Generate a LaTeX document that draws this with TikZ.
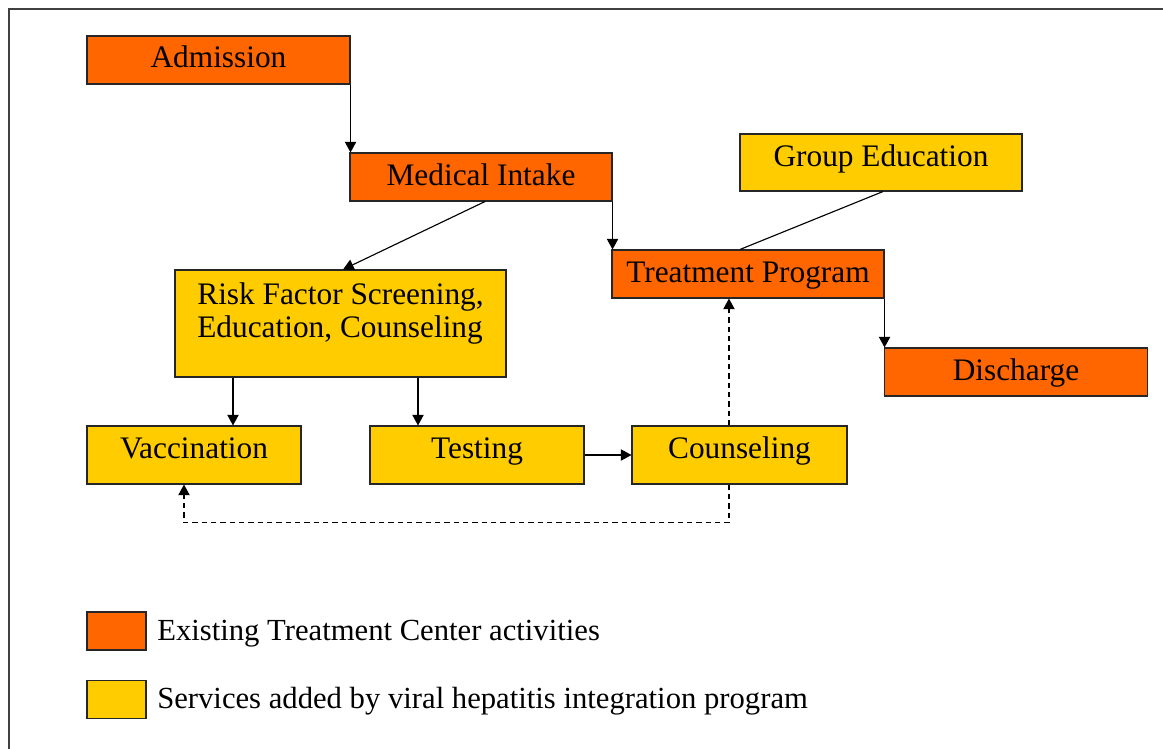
\documentclass[tikz,border=0pt]{standalone}
\usepackage{fontspec}
\setmainfont{Liberation Serif}
\usetikzlibrary{arrows.meta}

\definecolor{existorange}{RGB}{255,102,0}
\definecolor{addyellow}{RGB}{255,204,0}

\tikzset{
  box/.style={draw=black!85, line width=0.8pt, inner sep=0pt, text height=24pt,
    font=\fontsize{23.5}{28}\selectfont},
  oldbox/.style={box, fill=existorange},
  newbox/.style={box, fill=addyellow},
  flow/.style={-{Triangle[length=8pt,width=8.5pt]}, line width=0.85pt},
  back/.style={flow, dash pattern={on 4pt off 3pt}},
  legtext/.style={anchor=base west, inner sep=0pt, font=\fontsize{23}{27}\selectfont},
}

\begin{document}
\begin{tikzpicture}[x=0.75pt,y=0.75pt,yscale=-1,xscale=1]
\useasboundingbox (0,0) rectangle (1163,749);

%Frame
\draw [black!75, line width=1.5pt] (9,749) -- (9,9) -- (1163,9) ;

%Shape: Rectangle
\node [oldbox, minimum width=197.25pt, text depth=12pt] (adm) at (218.5,60) {Admission};
\node [oldbox, minimum width=196.5pt, text depth=12pt] (med) at (481,177) {Medical Intake};
\node [newbox, minimum width=211.5pt, text depth=18.75pt] (grp) at (881,162.5) {Group Education};
\node [oldbox, minimum width=204pt, text depth=12pt] (trt) at (748,274) {Treatment Program};
\node [oldbox, minimum width=197.25pt, text depth=12pt] (dis) at (1016,372) {Discharge};
\node [newbox, minimum width=248.25pt, align=left,
  text height=50.25pt, text depth=30pt, font=\fontsize{23.5}{24.75}\selectfont]
  (risk) at (340.5,323.5) {Risk Factor Screening,\\Education, Counseling};
\node [newbox, minimum width=160.5pt, text depth=19.5pt] (vac) at (194,455) {Vaccination};
\node [newbox, minimum width=160.5pt, text depth=19.5pt] (tst) at (477,455) {Testing};
\node [newbox, minimum width=161.25pt, text depth=19.5pt] (cns) at (739.5,455) {Counseling};

%Legend
\node [oldbox, minimum width=44.25pt, text height=0pt, text depth=28.5pt] (lgo) at (116.5,631) {};
\node [newbox, minimum width=44.25pt, text height=0pt, text depth=28.5pt] (lgy) at (116.5,699.5) {};
% Text Node
\node [legtext] (lgotext) at (157,640) {Existing Treatment Center activities};
% Text Node
\node [legtext] (lgytext) at (157,708) {Services added by viral hepatitis integration program};

%Straight Lines
\coordinate (m1) at ([xshift=3pt]med.south);
\coordinate (r1) at ([xshift=1.9pt]risk.north);
\coordinate (v1) at ([xshift=29.25pt]vac.north);
\coordinate (t1) at ([xshift=-44.25pt]tst.north);
\coordinate (g1) at ([xshift=1.5pt]grp.south);
\coordinate (p1) at ([xshift=-6pt]trt.north);
\coordinate (c1) at ([xshift=-7.9pt]cns.north);
\coordinate (c2) at ([xshift=-7.9pt]cns.south);
\coordinate (v2) at ([xshift=-7.5pt]vac.south);

\draw [flow] (adm.south east) -- (adm.south east |- med.north) ;
\draw [flow] (med.south east) -- (med.south east |- trt.north) ;
\draw [flow] (trt.south east) -- (trt.south east |- dis.north) ;
\draw [flow] (m1) -- (r1) ;
\draw [line width=0.85pt] (p1) -- (g1) ;
\draw [flow] (v1 |- risk.south) -- (v1) ;
\draw [flow] (t1 |- risk.south) -- (t1) ;
\draw [flow] (tst.east) -- (cns.west) ;

%Dashed Lines
\draw [back] (c1) -- (c1 |- trt.south) ;
\draw [back] (c2) -- ++(0,38) -| (v2) ;

\end{tikzpicture}
\end{document}
